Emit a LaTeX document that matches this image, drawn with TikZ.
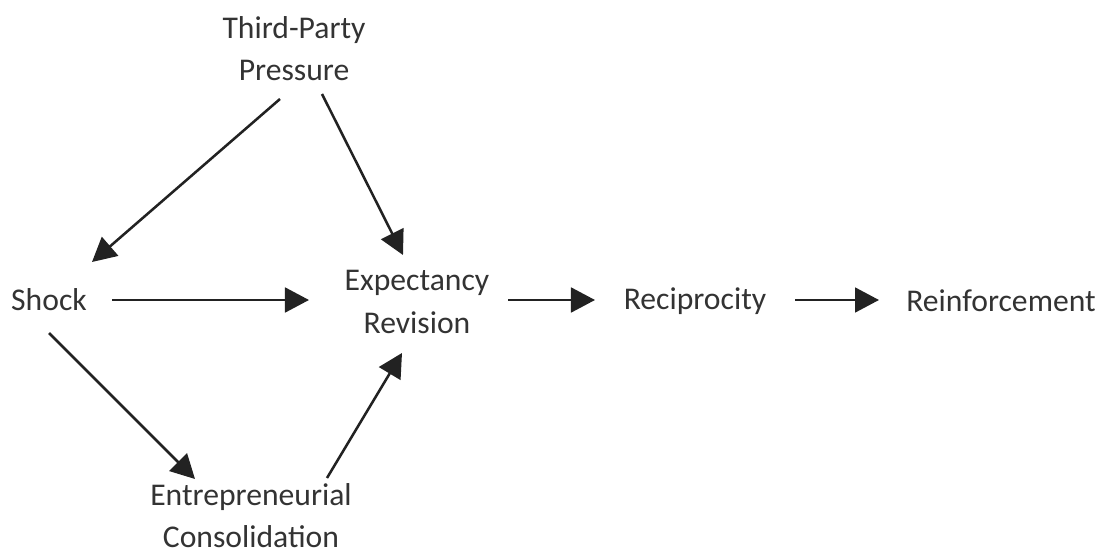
\documentclass[tikz,border=0pt]{standalone}
\usepackage{fontspec}
\setmainfont{Carlito}
\usepackage{xcolor}
\usetikzlibrary{arrows.meta}
\definecolor{txtgray}{HTML}{333333}
\definecolor{arrgray}{HTML}{222222}

\begin{document}
\begin{tikzpicture}[x=0.025cm,y=-0.025cm,
  label/.style={inner sep=0pt,align=center,text=txtgray,
    font=\fontsize{22.5}{30}\selectfont},
  link/.style={draw=arrgray,line width=1.8pt,
    -{Triangle[length=6mm,width=6.2mm]}}]
\useasboundingbox (0,0) rectangle (1100,558);
\node[label] (pressure) at (294,49) {Third-Party\\Pressure};
\node[label] (shock) at (49,300) {Shock};
\node[label] (revision) at (417,302) {Expectancy\\Revision};
\node[label] (recip) at (695,301) {Reciprocity};
\node[label] (reinf) at (1001,301) {Reinforcement};
\node[label] (consol) at (251,516) {Entrepreneurial\\Consolidation};
\draw[link] ([shift={(-14,50)}]pressure.center) -- ([shift={(43,-38)}]shock.center);
\draw[link] ([shift={(28,45)}]pressure.center) -- ([shift={(-14,-47)}]revision.center);
\draw[link] ([shift={(63,0)}]shock.center) -- ([shift={(-108,-2)}]revision.center);
\draw[link] ([shift={(0,33)}]shock.center) -- ([shift={(-56,-37)}]consol.center);
\draw[link] ([shift={(76,-38)}]consol.center) -- ([shift={(-15,51)}]revision.center);
\draw[link] ([shift={(91,-2)}]revision.center) -- ([shift={(-100,-1)}]recip.center);
\draw[link] ([shift={(100,-1)}]recip.center) -- ([shift={(-122,-1)}]reinf.center);
\end{tikzpicture}
\end{document}
